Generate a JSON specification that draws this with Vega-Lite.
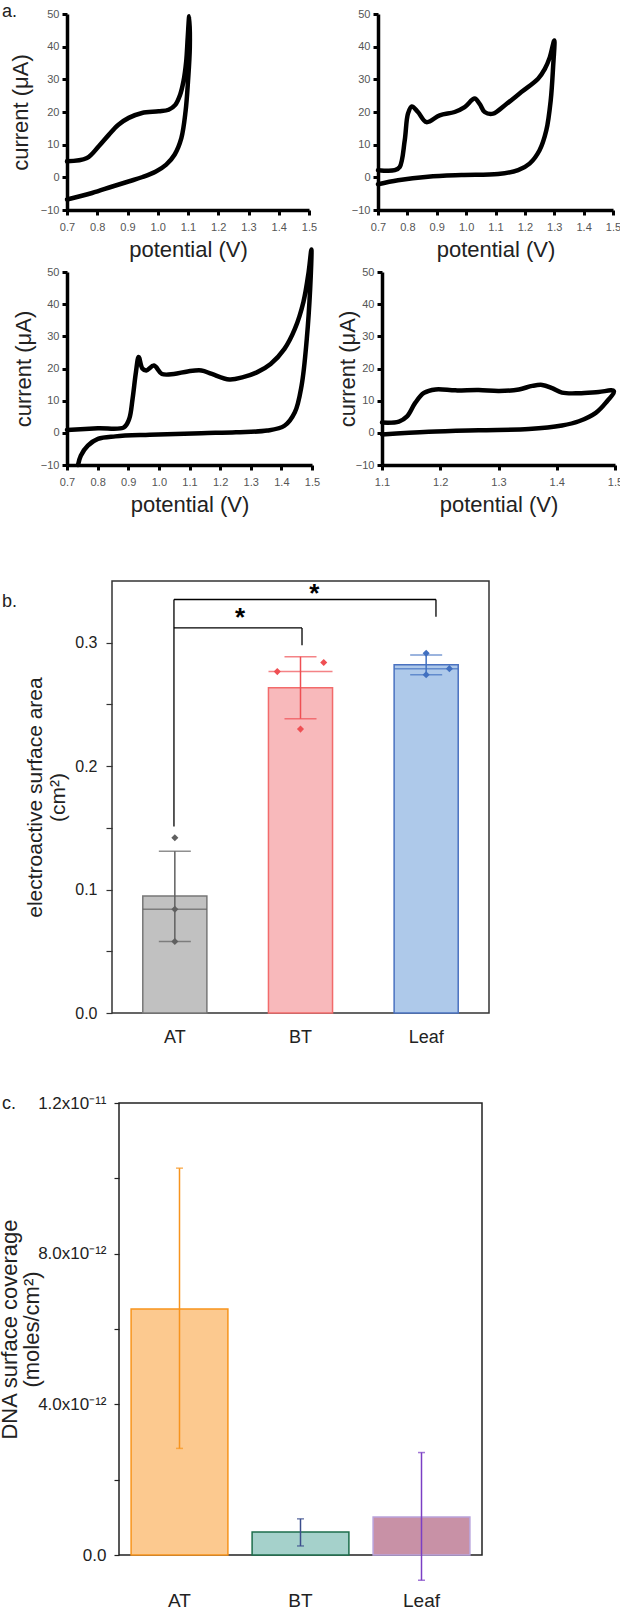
{
  "$schema": "https://vega.github.io/schema/vega-lite/v6.json",
  "padding": {"left": -3, "top": 3, "right": 0, "bottom": 0},
  "config": {
    "font": "Liberation Sans",
    "view": {"stroke": null},
    "axis": {"grid": false, "labelFlush": false, "labelOverlap": false, "titleFontWeight": "normal"},
    "title": {"fontWeight": "normal", "fontSize": 18, "color": "#222", "anchor": "start", "baseline": "alphabetic"}
  },
  "datasets": {
    "cv1": [
      {"k": 1, "E": 0.70, "I": 4.9}, {"k": 2, "E": 0.766, "I": 5.9}, {"k": 3, "E": 0.805, "I": 9.5}, {"k": 4, "E": 0.838, "I": 13.0},
      {"k": 5, "E": 0.87, "I": 16.1}, {"k": 6, "E": 0.904, "I": 18.2}, {"k": 7, "E": 0.948, "I": 19.7}, {"k": 8, "E": 1.003, "I": 20.2},
      {"k": 9, "E": 1.036, "I": 20.7}, {"k": 10, "E": 1.058, "I": 22.2}, {"k": 11, "E": 1.074, "I": 25.3}, {"k": 12, "E": 1.085, "I": 29.4},
      {"k": 13, "E": 1.094, "I": 35.5}, {"k": 14, "E": 1.099, "I": 42.7}, {"k": 15, "E": 1.104, "I": 49.3},
      {"k": 16, "E": 1.106, "I": 39.8}, {"k": 17, "E": 1.10, "I": 29.4}, {"k": 18, "E": 1.092, "I": 20.2}, {"k": 19, "E": 1.078, "I": 12.0},
      {"k": 20, "E": 1.056, "I": 7.0}, {"k": 21, "E": 1.028, "I": 3.9}, {"k": 22, "E": 0.994, "I": 1.8}, {"k": 23, "E": 0.95, "I": 0.1},
      {"k": 24, "E": 0.906, "I": -1.2}, {"k": 25, "E": 0.85, "I": -2.8}, {"k": 26, "E": 0.783, "I": -4.8}, {"k": 27, "E": 0.70, "I": -6.8}
    ],
    "cv2": [
      {"k": 1, "E": 0.70, "I": 2.2}, {"k": 2, "E": 0.757, "I": 2.2}, {"k": 3, "E": 0.774, "I": 3.2}, {"k": 4, "E": 0.791, "I": 11.3},
      {"k": 5, "E": 0.802, "I": 19.5}, {"k": 6, "E": 0.815, "I": 21.7}, {"k": 7, "E": 0.836, "I": 20.0}, {"k": 8, "E": 0.865, "I": 16.9},
      {"k": 9, "E": 0.91, "I": 19.0}, {"k": 10, "E": 0.961, "I": 20.0}, {"k": 11, "E": 0.995, "I": 21.5}, {"k": 12, "E": 1.029, "I": 24.1},
      {"k": 13, "E": 1.046, "I": 22.5}, {"k": 14, "E": 1.063, "I": 20.0}, {"k": 15, "E": 1.092, "I": 19.5}, {"k": 16, "E": 1.131, "I": 22.0},
      {"k": 17, "E": 1.188, "I": 26.1}, {"k": 18, "E": 1.245, "I": 30.2}, {"k": 19, "E": 1.268, "I": 33.2}, {"k": 20, "E": 1.285, "I": 36.8},
      {"k": 21, "E": 1.30, "I": 41.9},
      {"k": 22, "E": 1.296, "I": 33.7}, {"k": 23, "E": 1.288, "I": 23.6}, {"k": 24, "E": 1.273, "I": 14.4}, {"k": 25, "E": 1.25, "I": 8.3},
      {"k": 26, "E": 1.216, "I": 4.2}, {"k": 27, "E": 1.177, "I": 2.2}, {"k": 28, "E": 1.109, "I": 1.0}, {"k": 29, "E": 0.984, "I": 0.7},
      {"k": 30, "E": 0.87, "I": 0.2}, {"k": 31, "E": 0.768, "I": -0.9}, {"k": 32, "E": 0.70, "I": -2.1}
    ],
    "cv3": [
      {"k": 1, "E": 0.70, "I": 0.9}, {"k": 2, "E": 0.801, "I": 1.4}, {"k": 3, "E": 0.886, "I": 1.7}, {"k": 4, "E": 0.903, "I": 4.3},
      {"k": 5, "E": 0.914, "I": 10.5}, {"k": 6, "E": 0.925, "I": 18.8}, {"k": 7, "E": 0.934, "I": 23.6}, {"k": 8, "E": 0.946, "I": 20.0},
      {"k": 9, "E": 0.959, "I": 19.4}, {"k": 10, "E": 0.984, "I": 20.9}, {"k": 11, "E": 1.01, "I": 18.3}, {"k": 12, "E": 1.049, "I": 18.3},
      {"k": 13, "E": 1.094, "I": 19.1}, {"k": 14, "E": 1.139, "I": 19.4}, {"k": 15, "E": 1.173, "I": 18.3}, {"k": 16, "E": 1.23, "I": 16.6},
      {"k": 17, "E": 1.275, "I": 17.3}, {"k": 18, "E": 1.32, "I": 18.8}, {"k": 19, "E": 1.365, "I": 21.4}, {"k": 20, "E": 1.41, "I": 26.1},
      {"k": 21, "E": 1.444, "I": 32.3}, {"k": 22, "E": 1.472, "I": 40.7}, {"k": 23, "E": 1.489, "I": 50.0}, {"k": 24, "E": 1.498, "I": 57.0},
      {"k": 25, "E": 1.494, "I": 44.8}, {"k": 26, "E": 1.483, "I": 29.2}, {"k": 27, "E": 1.466, "I": 14.7}, {"k": 28, "E": 1.444, "I": 6.4},
      {"k": 29, "E": 1.41, "I": 2.2}, {"k": 30, "E": 1.354, "I": 0.7}, {"k": 31, "E": 1.252, "I": 0.2}, {"k": 32, "E": 1.139, "I": -0.1},
      {"k": 33, "E": 0.97, "I": -0.6}, {"k": 34, "E": 0.858, "I": -1.1}, {"k": 35, "E": 0.801, "I": -1.9}, {"k": 36, "E": 0.768, "I": -4.0},
      {"k": 37, "E": 0.745, "I": -7.1}, {"k": 38, "E": 0.736, "I": -10.0}
    ],
    "cv4": [
      {"k": 1, "E": 1.10, "I": 3.2}, {"k": 2, "E": 1.129, "I": 3.5}, {"k": 3, "E": 1.143, "I": 5.1}, {"k": 4, "E": 1.157, "I": 9.3},
      {"k": 5, "E": 1.172, "I": 12.4}, {"k": 6, "E": 1.192, "I": 13.5}, {"k": 7, "E": 1.226, "I": 13.2}, {"k": 8, "E": 1.266, "I": 13.3},
      {"k": 9, "E": 1.301, "I": 13.0}, {"k": 10, "E": 1.335, "I": 13.5}, {"k": 11, "E": 1.358, "I": 14.6}, {"k": 12, "E": 1.375, "I": 14.9},
      {"k": 13, "E": 1.392, "I": 13.9}, {"k": 14, "E": 1.409, "I": 12.5}, {"k": 15, "E": 1.438, "I": 12.3}, {"k": 16, "E": 1.472, "I": 12.7},
      {"k": 17, "E": 1.498, "I": 13.0},
      {"k": 18, "E": 1.484, "I": 9.3}, {"k": 19, "E": 1.467, "I": 6.2}, {"k": 20, "E": 1.438, "I": 3.6}, {"k": 21, "E": 1.409, "I": 2.3},
      {"k": 22, "E": 1.352, "I": 1.2}, {"k": 23, "E": 1.266, "I": 0.8}, {"k": 24, "E": 1.18, "I": 0.3}, {"k": 25, "E": 1.10, "I": -0.5}
    ],
    "bsum": [
      {"g": "AT", "mean": 0.0947, "med": 0.084, "lo": 0.058, "hi": 0.131},
      {"g": "BT", "mean": 0.2636, "med": 0.2766, "lo": 0.2384, "hi": 0.2887},
      {"g": "Leaf", "mean": 0.2822, "med": 0.279, "lo": 0.274, "hi": 0.290}
    ],
    "bpts": [
      {"g": "AT", "v": 0.142, "j": "C"}, {"g": "AT", "v": 0.084, "j": "C"}, {"g": "AT", "v": 0.058, "j": "C"},
      {"g": "BT", "v": 0.2766, "j": "L"}, {"g": "BT", "v": 0.284, "j": "R"}, {"g": "BT", "v": 0.230, "j": "C"},
      {"g": "Leaf", "v": 0.2915, "j": "C"}, {"g": "Leaf", "v": 0.279, "j": "R"}, {"g": "Leaf", "v": 0.274, "j": "C"}
    ],
    "brk": [
      {"x1": 0.493, "x2": 0.493, "y1": 0.151, "y2": 0.335},
      {"x1": 0.493, "x2": 1.512, "y1": 0.312, "y2": 0.312},
      {"x1": 1.512, "x2": 1.512, "y1": 0.312, "y2": 0.298},
      {"x1": 0.493, "x2": 2.578, "y1": 0.335, "y2": 0.335},
      {"x1": 2.578, "x2": 2.578, "y1": 0.335, "y2": 0.321}
    ],
    "stars": [
      {"x": 1.02, "y": 0.3136, "t": "*"},
      {"x": 1.61, "y": 0.333, "t": "*"}
    ],
    "csum": [
      {"g": "AT", "mean": 6.53e-12, "lo": 2.83e-12, "hi": 10.27e-12},
      {"g": "BT", "mean": 0.61e-12, "lo": 0.24e-12, "hi": 0.96e-12},
      {"g": "Leaf", "mean": 1.01e-12, "lo": -0.67e-12, "hi": 2.72e-12}
    ]
  },
  "vconcat": [
    {
      "vconcat": [
        {
          "hconcat": [
            {
              "width": 242, "height": 196,
              "title": {"text": "a.", "frame": "group", "dx": -65, "offset": -13},
              "data": {"name": "cv1"},
              "mark": {"type": "line", "color": "black", "strokeWidth": 4.5, "clip": false, "strokeJoin": "round", "strokeCap": "round", "interpolate": "catmull-rom"},
              "encoding": {
                "x": {"field": "E", "type": "quantitative", "scale": {"domain": [0.7, 1.5], "nice": false, "zero": false},
                  "axis": {"values": [0.7, 0.8, 0.9, 1.0, 1.1, 1.2, 1.3, 1.4, 1.5], "format": ".1f", "title": "potential (V)", "domainColor": "black", "domainWidth": 3.5, "tickColor": "black", "tickWidth": 3, "tickSize": 5, "labelColor": "#555", "labelFontSize": 11, "labelPadding": 6, "titleFontSize": 22, "titleColor": "#222", "titlePadding": 7}},
                "y": {"field": "I", "type": "quantitative", "scale": {"domain": [-10, 50], "nice": false, "zero": false},
                  "axis": {"values": [-10, 0, 10, 20, 30, 40, 50], "title": "current (μA)", "domainColor": "black", "domainWidth": 3.5, "tickColor": "black", "tickWidth": 3, "tickSize": 5, "labelColor": "#555", "labelFontSize": 11, "labelPadding": 3, "titleFontSize": 22, "titleColor": "#222", "titlePadding": 8}},
                "order": {"field": "k", "type": "quantitative"}
              }
            },
            {
              "width": 235, "height": 196,
              "data": {"name": "cv2"},
              "mark": {"type": "line", "color": "black", "strokeWidth": 4.5, "clip": false, "strokeJoin": "round", "strokeCap": "round", "interpolate": "catmull-rom"},
              "encoding": {
                "x": {"field": "E", "type": "quantitative", "scale": {"domain": [0.7, 1.5], "nice": false, "zero": false},
                  "axis": {"values": [0.7, 0.8, 0.9, 1.0, 1.1, 1.2, 1.3, 1.4, 1.5], "format": ".1f", "title": "potential (V)", "domainColor": "black", "domainWidth": 3.5, "tickColor": "black", "tickWidth": 3, "tickSize": 5, "labelColor": "#555", "labelFontSize": 11, "labelPadding": 6, "titleFontSize": 22, "titleColor": "#222", "titlePadding": 7}},
                "y": {"field": "I", "type": "quantitative", "scale": {"domain": [-10, 50], "nice": false, "zero": false},
                  "axis": {"values": [-10, 0, 10, 20, 30, 40, 50], "title": null, "domainColor": "black", "domainWidth": 3.5, "tickColor": "black", "tickWidth": 3, "tickSize": 5, "labelColor": "#555", "labelFontSize": 11, "labelPadding": 3}},
                "order": {"field": "k", "type": "quantitative"}
              }
            }
          ],
          "spacing": 34
        },
        {
          "hconcat": [
            {
              "width": 245, "height": 193,
              "data": {"name": "cv3"},
              "mark": {"type": "line", "color": "black", "strokeWidth": 4.5, "clip": false, "strokeJoin": "round", "strokeCap": "round", "interpolate": "catmull-rom"},
              "encoding": {
                "x": {"field": "E", "type": "quantitative", "scale": {"domain": [0.7, 1.5], "nice": false, "zero": false},
                  "axis": {"values": [0.7, 0.8, 0.9, 1.0, 1.1, 1.2, 1.3, 1.4, 1.5], "format": ".1f", "title": "potential (V)", "domainColor": "black", "domainWidth": 3.5, "tickColor": "black", "tickWidth": 3, "tickSize": 5, "labelColor": "#555", "labelFontSize": 11, "labelPadding": 6, "titleFontSize": 22, "titleColor": "#222", "titlePadding": 7}},
                "y": {"field": "I", "type": "quantitative", "scale": {"domain": [-10, 50], "nice": false, "zero": false},
                  "axis": {"values": [-10, 0, 10, 20, 30, 40, 50], "title": "current (μA)", "domainColor": "black", "domainWidth": 3.5, "tickColor": "black", "tickWidth": 3, "tickSize": 5, "labelColor": "#555", "labelFontSize": 11, "labelPadding": 3, "titleFontSize": 22, "titleColor": "#222", "titlePadding": 5}},
                "order": {"field": "k", "type": "quantitative"}
              }
            },
            {
              "width": 233, "height": 193,
              "data": {"name": "cv4"},
              "mark": {"type": "line", "color": "black", "strokeWidth": 4.5, "clip": false, "strokeJoin": "round", "strokeCap": "round", "interpolate": "catmull-rom"},
              "encoding": {
                "x": {"field": "E", "type": "quantitative", "scale": {"domain": [1.1, 1.5], "nice": false, "zero": false},
                  "axis": {"values": [1.1, 1.2, 1.3, 1.4, 1.5], "format": ".1f", "title": "potential (V)", "domainColor": "black", "domainWidth": 3.5, "tickColor": "black", "tickWidth": 3, "tickSize": 5, "labelColor": "#555", "labelFontSize": 11, "labelPadding": 6, "titleFontSize": 22, "titleColor": "#222", "titlePadding": 7}},
                "y": {"field": "I", "type": "quantitative", "scale": {"domain": [-10, 50], "nice": false, "zero": false},
                  "axis": {"values": [-10, 0, 10, 20, 30, 40, 50], "title": "current (μA)", "domainColor": "black", "domainWidth": 3.5, "tickColor": "black", "tickWidth": 3, "tickSize": 5, "labelColor": "#555", "labelFontSize": 11, "labelPadding": 3, "titleFontSize": 22, "titleColor": "#222", "titlePadding": -4}},
                "order": {"field": "k", "type": "quantitative"}
              }
            }
          ],
          "spacing": 16
        }
      ],
      "spacing": -13
    },
    {
      "vconcat": [
        {
          "hconcat": [
            {"width": 1, "height": 1, "data": {"values": [{}]}, "mark": {"type": "text", "text": ""}},
            {
              "width": 377, "height": 432,
              "view": {"stroke": "#333", "strokeWidth": 1.5},
              "title": {"text": "b.", "frame": "group", "dx": -110, "offset": -30},
              "layer": [
                {
                  "layer": [
                    {
                      "data": {"name": "bsum"},
                      "mark": {"type": "bar", "strokeWidth": 1.5},
                      "encoding": {
                        "x": {"field": "g", "type": "nominal", "sort": ["AT", "BT", "Leaf"], "scale": {"domain": ["AT", "BT", "Leaf"], "paddingInner": 0.49, "paddingOuter": 0.245},
                          "axis": {"title": null, "domain": false, "ticks": false, "labelAngle": 0, "labelFontSize": 18, "labelColor": "#222", "labelPadding": 15}},
                        "y": {"field": "mean", "type": "quantitative", "scale": {"domain": [0, 0.35], "nice": false},
                          "axis": {"values": [0, 0.05, 0.1, 0.15, 0.2, 0.25, 0.3], "labelExpr": "round(datum.value*100) % 10 === 0 ? format(datum.value, '.1f') : ''", "domain": false, "tickColor": "#333", "tickWidth": 1.2, "tickSize": 6, "labelFontSize": 16, "labelColor": "#222", "labelPadding": 9, "title": ["electroactive surface area", "(cm²)"], "titleFontSize": 21, "titleColor": "#222", "titleLineHeight": 23, "titlePadding": 6}},
                        "fill": {"field": "g", "type": "nominal", "scale": {"domain": ["AT", "BT", "Leaf"], "range": ["#c1c1c1", "#f8b9bb", "#aec9ea"]}, "legend": null},
                        "stroke": {"field": "g", "type": "nominal", "scale": {"domain": ["AT", "BT", "Leaf"], "range": ["#777777", "#f26b6b", "#4a72c0"]}, "legend": null}
                      }
                    },
                    {
                      "data": {"name": "bsum"},
                      "mark": {"type": "tick", "size": 64, "thickness": 1.5},
                      "encoding": {
                        "x": {"field": "g", "type": "nominal"},
                        "y": {"field": "med", "type": "quantitative", "scale": {"domain": [0, 0.35], "nice": false}},
                        "color": {"field": "g", "type": "nominal", "scale": {"domain": ["AT", "BT", "Leaf"], "range": ["#606060", "#ef4f53", "#4170c0"]}, "legend": null}
                      }
                    },
                    {
                      "data": {"name": "bsum"},
                      "mark": {"type": "rule", "strokeWidth": 1.5},
                      "encoding": {
                        "x": {"field": "g", "type": "nominal"},
                        "y": {"field": "lo", "type": "quantitative", "scale": {"domain": [0, 0.35], "nice": false}},
                        "y2": {"field": "hi"},
                        "color": {"field": "g", "type": "nominal", "legend": null}
                      }
                    },
                    {
                      "data": {"name": "bsum"},
                      "mark": {"type": "tick", "size": 32, "thickness": 1.5},
                      "encoding": {
                        "x": {"field": "g", "type": "nominal"},
                        "y": {"field": "lo", "type": "quantitative", "scale": {"domain": [0, 0.35], "nice": false}},
                        "color": {"field": "g", "type": "nominal", "legend": null}
                      }
                    },
                    {
                      "data": {"name": "bsum"},
                      "mark": {"type": "tick", "size": 32, "thickness": 1.5},
                      "encoding": {
                        "x": {"field": "g", "type": "nominal"},
                        "y": {"field": "hi", "type": "quantitative", "scale": {"domain": [0, 0.35], "nice": false}},
                        "color": {"field": "g", "type": "nominal", "legend": null}
                      }
                    },
                    {
                      "data": {"name": "bpts"},
                      "mark": {"type": "point", "shape": "diamond", "filled": true, "size": 50, "opacity": 1},
                      "encoding": {
                        "x": {"field": "g", "type": "nominal"},
                        "xOffset": {"field": "j", "type": "nominal", "scale": {"domain": ["L", "C", "R"], "paddingInner": 0, "paddingOuter": 0.38}},
                        "y": {"field": "v", "type": "quantitative", "scale": {"domain": [0, 0.35], "nice": false}},
                        "color": {"field": "g", "type": "nominal", "legend": null}
                      }
                    }
                  ],
                  "resolve": {"scale": {"xOffset": "independent"}}
                },
                {
                  "layer": [
                    {
                      "data": {"name": "brk"},
                      "mark": {"type": "rule", "color": "black", "strokeWidth": 1.3},
                      "encoding": {
                        "x": {"field": "x1", "type": "quantitative", "scale": {"domain": [0, 3], "nice": false, "zero": false}, "axis": null},
                        "x2": {"field": "x2"},
                        "y": {"field": "y1", "type": "quantitative", "scale": {"domain": [0, 0.35], "nice": false}},
                        "y2": {"field": "y2"}
                      }
                    },
                    {
                      "data": {"name": "stars"},
                      "mark": {"type": "text", "fontSize": 26, "fontWeight": "bold", "baseline": "alphabetic", "color": "black"},
                      "encoding": {
                        "x": {"field": "x", "type": "quantitative"},
                        "y": {"field": "y", "type": "quantitative", "scale": {"domain": [0, 0.35], "nice": false}},
                        "text": {"field": "t"}
                      }
                    }
                  ]
                }
              ],
              "resolve": {"scale": {"x": "independent"}}
            }
          ],
          "spacing": 44,
          "bounds": "flush"
        },
        {
          "hconcat": [
            {"width": 1, "height": 1, "data": {"values": [{}]}, "mark": {"type": "text", "text": ""}},
            {
              "width": 363, "height": 452,
              "view": {"stroke": "#222", "strokeWidth": 1.5},
              "title": {"text": "c.", "frame": "group", "dx": -117, "offset": -19},
              "data": {"name": "csum"},
              "layer": [
                {
                  "mark": {"type": "bar", "strokeWidth": 1.5},
                  "encoding": {
                    "x": {"field": "g", "type": "nominal", "sort": ["AT", "BT", "Leaf"], "scale": {"domain": ["AT", "BT", "Leaf"], "paddingInner": 0.2, "paddingOuter": 0.1},
                      "axis": {"title": null, "domain": false, "ticks": false, "labelAngle": 0, "labelFontSize": 19, "labelColor": "#222", "labelPadding": 10, "offset": 26}},
                    "y": {"field": "mean", "type": "quantitative", "scale": {"domain": [0, 1.2e-11], "nice": false},
                      "axis": {"values": [0, 2e-12, 4e-12, 6e-12, 8e-12, 1e-11, 1.2e-11], "labelExpr": "round(datum.value*1e13) === 0 ? '0.0' : round(datum.value*1e13) === 40 ? '4.0x10⁻¹²' : round(datum.value*1e13) === 80 ? '8.0x10⁻¹²' : round(datum.value*1e13) === 120 ? '1.2x10⁻¹¹' : ''", "domain": false, "tickColor": "#222", "tickWidth": 1.2, "tickSize": 5, "labelFontSize": 17, "labelColor": "#222", "labelPadding": 8, "title": ["DNA surface coverage", "(moles/cm²)"], "titleFontSize": 22, "titleColor": "#222", "titleLineHeight": 22, "titlePadding": -6}},
                    "fill": {"field": "g", "type": "nominal", "scale": {"domain": ["AT", "BT", "Leaf"], "range": ["#fcc98f", "#a5d1cb", "#c891a6"]}, "legend": null},
                    "stroke": {"field": "g", "type": "nominal", "scale": {"domain": ["AT", "BT", "Leaf"], "range": ["#f7941d", "#1d6e4c", "#b9a3dc"]}, "legend": null}
                  }
                },
                {
                  "mark": {"type": "rule", "strokeWidth": 1.5, "clip": false},
                  "encoding": {
                    "x": {"field": "g", "type": "nominal"},
                    "y": {"field": "lo", "type": "quantitative", "scale": {"domain": [0, 1.2e-11], "nice": false}},
                    "y2": {"field": "hi"},
                    "color": {"field": "g", "type": "nominal", "scale": {"domain": ["AT", "BT", "Leaf"], "range": ["#f7941d", "#3b4d8c", "#7b3fc4"]}, "legend": null}
                  }
                },
                {
                  "mark": {"type": "tick", "size": 7, "thickness": 1.5, "clip": false},
                  "encoding": {
                    "x": {"field": "g", "type": "nominal"},
                    "y": {"field": "lo", "type": "quantitative", "scale": {"domain": [0, 1.2e-11], "nice": false}},
                    "color": {"field": "g", "type": "nominal", "legend": null}
                  }
                },
                {
                  "mark": {"type": "tick", "size": 7, "thickness": 1.5, "clip": false},
                  "encoding": {
                    "x": {"field": "g", "type": "nominal"},
                    "y": {"field": "hi", "type": "quantitative", "scale": {"domain": [0, 1.2e-11], "nice": false}},
                    "color": {"field": "g", "type": "nominal", "legend": null}
                  }
                }
              ]
            }
          ],
          "spacing": 51,
          "bounds": "flush"
        }
      ],
      "spacing": 46,
      "resolve": {"scale": {"fill": "independent", "stroke": "independent", "color": "independent", "xOffset": "independent"}}
    }
  ],
  "spacing": 60
}
